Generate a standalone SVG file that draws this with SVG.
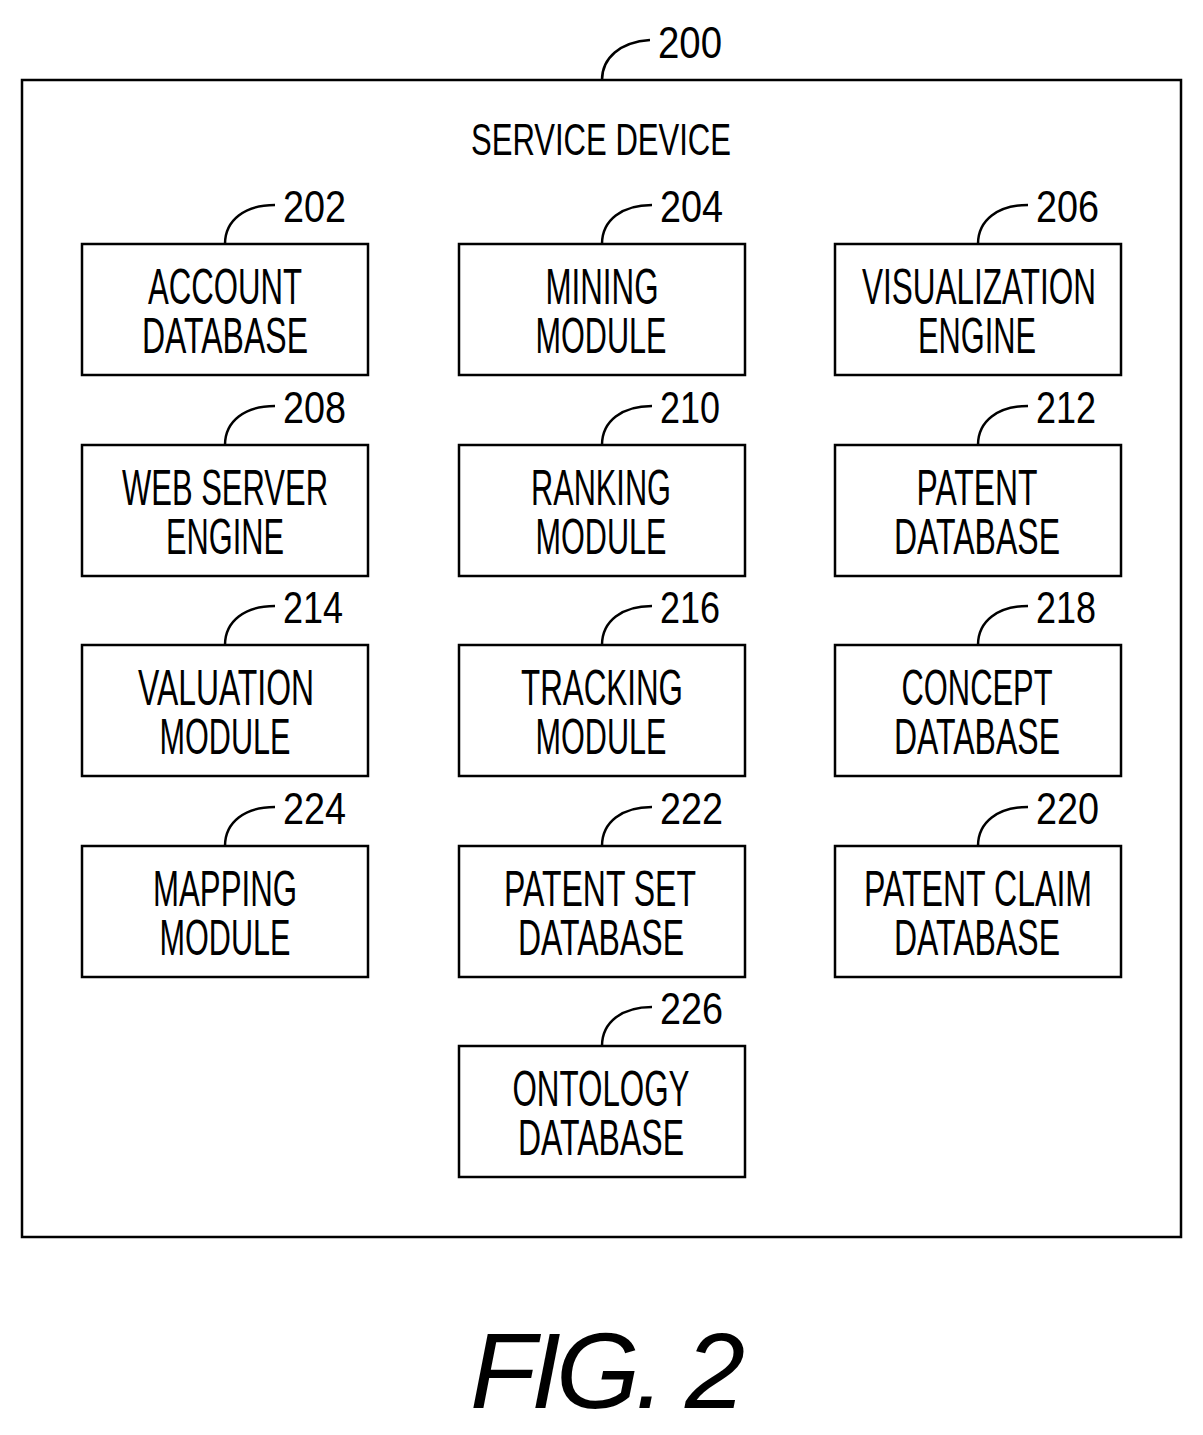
<svg xmlns="http://www.w3.org/2000/svg" width="1203" height="1435" viewBox="0 0 1203 1435">
<style>
rect{fill:#fff;stroke:#000;stroke-width:2.5}
.t{font-family:"Liberation Sans",Arial,sans-serif;font-size:50px;text-anchor:middle}
.n{font-family:"Liberation Sans",Arial,sans-serif;font-size:44px}
.l{fill:none;stroke:#000;stroke-width:2.5}
</style>
<rect width="1203" height="1435" style="stroke:none"/>
<g id="device">
<rect x="22" y="80" width="1159" height="1157"/>
<text class="t" x="601" y="155" style="font-size:44px" textLength="260" lengthAdjust="spacingAndGlyphs">SERVICE DEVICE</text>
<text class="n" x="658" y="58" textLength="64" lengthAdjust="spacingAndGlyphs">200</text>
</g>
<g id="connectors">
<path class="l" d="M602,80 C602,58 620,42 650,40"/>
<path class="l" d="M225,244 C225,220 245,205 275,205"/>
<path class="l" d="M602,244 C602,220 622,205 652,205"/>
<path class="l" d="M978,244 C978,220 998,205 1028,205"/>
<path class="l" d="M225,445 C225,421 245,406 275,406"/>
<path class="l" d="M602,445 C602,421 622,406 652,406"/>
<path class="l" d="M978,445 C978,421 998,406 1028,406"/>
<path class="l" d="M225,645 C225,621 245,606 275,606"/>
<path class="l" d="M602,645 C602,621 622,606 652,606"/>
<path class="l" d="M978,645 C978,621 998,606 1028,606"/>
<path class="l" d="M225,846 C225,822 245,807 275,807"/>
<path class="l" d="M602,846 C602,822 622,807 652,807"/>
<path class="l" d="M978,846 C978,822 998,807 1028,807"/>
<path class="l" d="M602,1046 C602,1022 622,1007 652,1007"/>
</g>
<g id="n202"><rect x="82" y="244" width="286" height="131"/><text class="n" x="283" y="222" textLength="63" lengthAdjust="spacingAndGlyphs">202</text><text class="t" x="225" y="304" textLength="154" lengthAdjust="spacingAndGlyphs">ACCOUNT</text><text class="t" x="225" y="353" textLength="166" lengthAdjust="spacingAndGlyphs">DATABASE</text></g>
<g id="n204"><rect x="459" y="244" width="286" height="131"/><text class="n" x="660" y="222" textLength="63" lengthAdjust="spacingAndGlyphs">204</text><text class="t" x="602" y="304" textLength="113" lengthAdjust="spacingAndGlyphs">MINING</text><text class="t" x="601" y="353" textLength="131" lengthAdjust="spacingAndGlyphs">MODULE</text></g>
<g id="n206"><rect x="835" y="244" width="286" height="131"/><text class="n" x="1036" y="222" textLength="63" lengthAdjust="spacingAndGlyphs">206</text><text class="t" x="979" y="304" textLength="234" lengthAdjust="spacingAndGlyphs">VISUALIZATION</text><text class="t" x="977" y="353" textLength="118" lengthAdjust="spacingAndGlyphs">ENGINE</text></g>
<g id="n208"><rect x="82" y="445" width="286" height="131"/><text class="n" x="283" y="423" textLength="63" lengthAdjust="spacingAndGlyphs">208</text><text class="t" x="225" y="505" textLength="206" lengthAdjust="spacingAndGlyphs">WEB SERVER</text><text class="t" x="225" y="554" textLength="118" lengthAdjust="spacingAndGlyphs">ENGINE</text></g>
<g id="n210"><rect x="459" y="445" width="286" height="131"/><text class="n" x="660" y="423" textLength="60" lengthAdjust="spacingAndGlyphs">210</text><text class="t" x="601" y="505" textLength="140" lengthAdjust="spacingAndGlyphs">RANKING</text><text class="t" x="601" y="554" textLength="131" lengthAdjust="spacingAndGlyphs">MODULE</text></g>
<g id="n212"><rect x="835" y="445" width="286" height="131"/><text class="n" x="1036" y="423" textLength="60" lengthAdjust="spacingAndGlyphs">212</text><text class="t" x="977" y="505" textLength="121" lengthAdjust="spacingAndGlyphs">PATENT</text><text class="t" x="977" y="554" textLength="166" lengthAdjust="spacingAndGlyphs">DATABASE</text></g>
<g id="n214"><rect x="82" y="645" width="286" height="131"/><text class="n" x="283" y="623" textLength="60" lengthAdjust="spacingAndGlyphs">214</text><text class="t" x="226" y="705" textLength="176" lengthAdjust="spacingAndGlyphs">VALUATION</text><text class="t" x="225" y="754" textLength="131" lengthAdjust="spacingAndGlyphs">MODULE</text></g>
<g id="n216"><rect x="459" y="645" width="286" height="131"/><text class="n" x="660" y="623" textLength="60" lengthAdjust="spacingAndGlyphs">216</text><text class="t" x="602" y="705" textLength="162" lengthAdjust="spacingAndGlyphs">TRACKING</text><text class="t" x="601" y="754" textLength="131" lengthAdjust="spacingAndGlyphs">MODULE</text></g>
<g id="n218"><rect x="835" y="645" width="286" height="131"/><text class="n" x="1036" y="623" textLength="60" lengthAdjust="spacingAndGlyphs">218</text><text class="t" x="977" y="705" textLength="151" lengthAdjust="spacingAndGlyphs">CONCEPT</text><text class="t" x="977" y="754" textLength="166" lengthAdjust="spacingAndGlyphs">DATABASE</text></g>
<g id="n224"><rect x="82" y="846" width="286" height="131"/><text class="n" x="283" y="824" textLength="63" lengthAdjust="spacingAndGlyphs">224</text><text class="t" x="225" y="906" textLength="144" lengthAdjust="spacingAndGlyphs">MAPPING</text><text class="t" x="225" y="955" textLength="131" lengthAdjust="spacingAndGlyphs">MODULE</text></g>
<g id="n222"><rect x="459" y="846" width="286" height="131"/><text class="n" x="660" y="824" textLength="63" lengthAdjust="spacingAndGlyphs">222</text><text class="t" x="600" y="906" textLength="192" lengthAdjust="spacingAndGlyphs">PATENT SET</text><text class="t" x="601" y="955" textLength="166" lengthAdjust="spacingAndGlyphs">DATABASE</text></g>
<g id="n220"><rect x="835" y="846" width="286" height="131"/><text class="n" x="1036" y="824" textLength="63" lengthAdjust="spacingAndGlyphs">220</text><text class="t" x="978" y="906" textLength="228" lengthAdjust="spacingAndGlyphs">PATENT CLAIM</text><text class="t" x="977" y="955" textLength="166" lengthAdjust="spacingAndGlyphs">DATABASE</text></g>
<g id="n226"><rect x="459" y="1046" width="286" height="131"/><text class="n" x="660" y="1024" textLength="63" lengthAdjust="spacingAndGlyphs">226</text><text class="t" x="601" y="1106" textLength="177" lengthAdjust="spacingAndGlyphs">ONTOLOGY</text><text class="t" x="601" y="1155" textLength="166" lengthAdjust="spacingAndGlyphs">DATABASE</text></g>
<text x="470" y="1408" style="font-family:'Liberation Sans',Arial,sans-serif;font-size:108px;font-style:italic" textLength="275" lengthAdjust="spacing">FIG.  2</text>
</svg>
